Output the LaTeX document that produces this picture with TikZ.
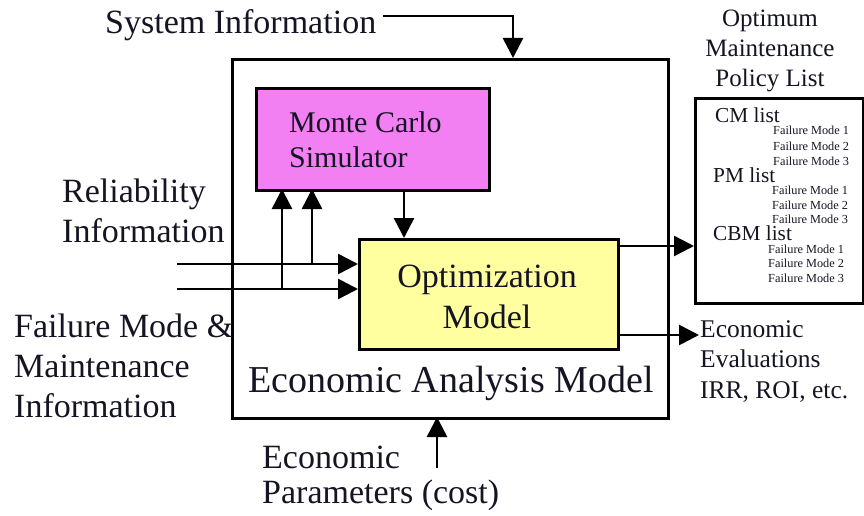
\documentclass[tikz,border=0pt]{standalone}
\usepackage{fontspec}
\setmainfont{Liberation Serif}
\usetikzlibrary{arrows.meta}
\definecolor{mcfill}{RGB}{242,128,242}
\definecolor{optfill}{RGB}{255,255,160}
\definecolor{ink}{RGB}{20,20,35}
\tikzset{
  box/.style={draw=black, line width=2.8pt, inner sep=0pt},
  flow/.style={line width=2.6pt, -{Triangle[length=20pt,width=20pt]}},
  lbl/.style={text=ink, inner sep=0pt, align=left},
  tiny/.style={font=\fontsize{12.3}{15}\selectfont, text=ink, inner sep=0pt, anchor=base west},
  lst/.style={font=\fontsize{21.3}{22}\selectfont, text=ink, inner sep=0pt, anchor=base west}
}
\begin{document}
\begin{tikzpicture}[x=1pt,y=-1pt]
\useasboundingbox (0,0) rectangle (864,516);

% outer economic analysis block
\node[box, minimum width=436pt, minimum height=359pt, anchor=north west] (eam) at (231,58) {};
\node[lbl, anchor=base, font=\fontsize{38}{40}\selectfont] (eamlbl) at (451,392) {Economic Analysis Model};

% inner blocks
\node[box, fill=mcfill, minimum width=233pt, minimum height=102pt, anchor=north west] (mc) at (255,87) {};
\node[lbl, anchor=base west, font=\fontsize{30}{35}\selectfont] (mclbl) at (289,167) {Monte Carlo\\Simulator};
\node[box, fill=optfill, minimum width=259pt, minimum height=110pt, anchor=north west] (opt) at (358,238) {};
\node[lbl, align=center, anchor=base, font=\fontsize{34}{41}\selectfont] (optlbl) at (487,328) {Optimization\\Model};

% policy list box
\node[box, minimum width=168pt, minimum height=205pt, anchor=north west] (pol) at (694,97) {};
\node[lbl, align=center, anchor=base, font=\fontsize{25}{30}\selectfont] (pollbl) at (770,87) {Optimum\\Maintenance\\Policy List};
\node[lst] (cm) at (715,122) {CM list};
\node[tiny] (cm1) at (773,135) {Failure Mode 1};
\node[tiny] (cm2) at (773,150) {Failure Mode 2};
\node[tiny] (cm3) at (773,165) {Failure Mode 3};
\node[lst] (pm) at (713,182) {PM list};
\node[tiny] (pm1) at (772,194) {Failure Mode 1};
\node[tiny] (pm2) at (772,209) {Failure Mode 2};
\node[tiny] (pm3) at (772,223) {Failure Mode 3};
\node[lst] (cbm) at (713,240) {CBM list};
\node[tiny] (cbm1) at (768,253) {Failure Mode 1};
\node[tiny] (cbm2) at (768,267) {Failure Mode 2};
\node[tiny] (cbm3) at (768,282) {Failure Mode 3};

% external labels
\node[lbl, anchor=base west, font=\fontsize{34}{40}\selectfont] (sys) at (105,34) {System Information};
\node[lbl, anchor=base west, font=\fontsize{34}{40}\selectfont] (rel) at (62,242) {Reliability\\Information};
\node[lbl, anchor=base west, font=\fontsize{34}{40}\selectfont] (fmm) at (14,417) {Failure Mode \&\\Maintenance\\Information};
\node[lbl, anchor=base west, font=\fontsize{34}{35}\selectfont] (par) at (262,503) {Economic\\Parameters (cost)};
\node[lbl, anchor=base west, font=\fontsize{25.5}{30.5}\selectfont] (evl) at (700,398) {Economic\\Evaluations\\IRR, ROI, etc.};

% connection points
\coordinate (sysA) at (383,16);
\coordinate (sysB) at (513,16);
\coordinate (sysC) at (513,58);
\coordinate (in1) at (177,264);
\coordinate (in2) at (177,289);
\coordinate (in1e) at (358,264);
\coordinate (in2e) at (358,289);
\coordinate (up1a) at (282,289);
\coordinate (up1b) at (282,189);
\coordinate (up2a) at (312,264);
\coordinate (up2b) at (312,189);
\coordinate (mcdA) at (404,189);
\coordinate (mcdB) at (404,238);
\coordinate (outA) at (617,246);
\coordinate (outB) at (694,246);
\coordinate (evA) at (617,335);
\coordinate (evB) at (699,335);
\coordinate (parA) at (437,468);
\coordinate (parB) at (437,417);

% connectors
\draw[flow] (sysA) -- (sysB) -- (sysC);
\draw[flow] (in1) -- (in1e);
\draw[flow] (in2) -- (in2e);
\draw[flow] (up1a) -- (up1b);
\draw[flow] (up2a) -- (up2b);
\draw[flow] (mcdA) -- (mcdB);
\draw[flow] (outA) -- (outB);
\draw[flow] (evA) -- (evB);
\draw[flow] (parA) -- (parB);
\end{tikzpicture}
\end{document}
